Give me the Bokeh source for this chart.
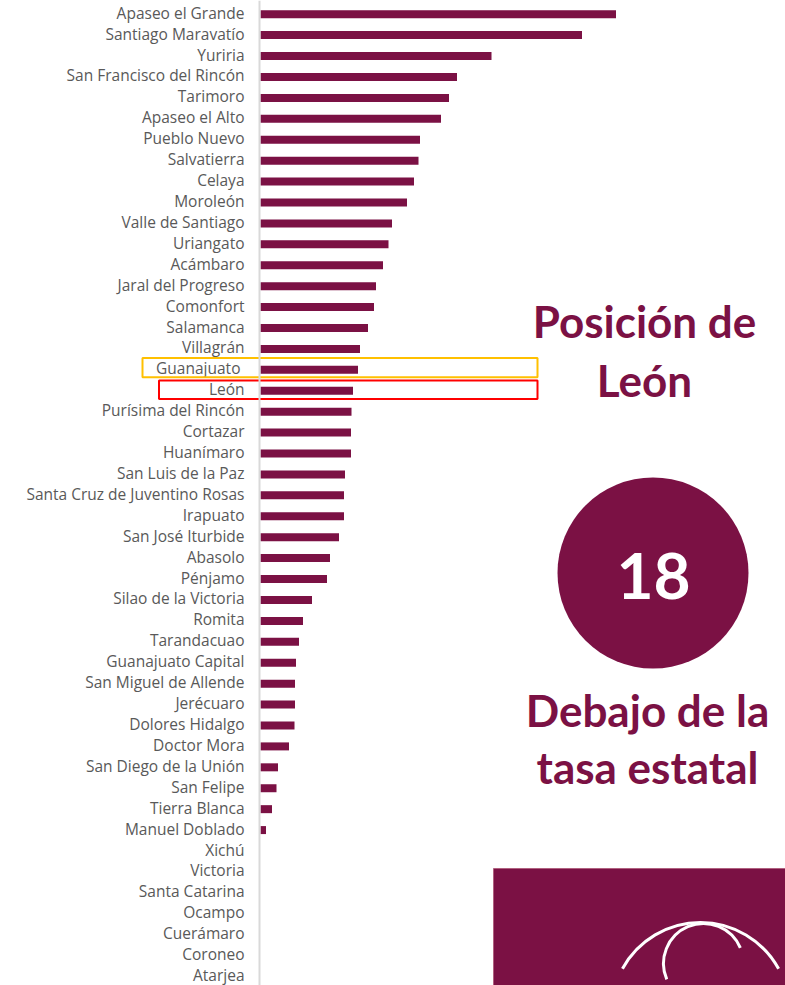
from bokeh.plotting import figure
from bokeh.models import Range1d, Span, ColumnDataSource
from bokeh.core.properties import value
from bokeh.embed import file_html
from bokeh.resources import INLINE

municipios = [
    "Apaseo el Grande", "Santiago Maravatío", "Yuriria", "San Francisco del Rincón",
    "Tarimoro", "Apaseo el Alto", "Pueblo Nuevo", "Salvatierra", "Celaya", "Moroleón",
    "Valle de Santiago", "Uriangato", "Acámbaro", "Jaral del Progreso", "Comonfort",
    "Salamanca", "Villagrán", "Guanajuato ", "León", "Purísima del Rincón", "Cortazar",
    "Huanímaro", "San Luis de la Paz", "Santa Cruz de Juventino Rosas", "Irapuato",
    "San José Iturbide", "Abasolo", "Pénjamo", "Silao de la Victoria", "Romita",
    "Tarandacuao", "Guanajuato Capital", "San Miguel de Allende", "Jerécuaro",
    "Dolores Hidalgo", "Doctor Mora", "San Diego de la Unión", "San Felipe",
    "Tierra Blanca", "Manuel Doblado", "Xichú", "Victoria", "Santa Catarina",
    "Ocampo", "Cuerámaro", "Coroneo", "Atarjea",
]
tasas = [
    71.1, 64.3, 46.2, 39.3, 37.7, 36.1, 31.9, 31.6, 30.7, 29.3,
    26.3, 25.6, 24.5, 23.1, 22.7, 21.5, 19.9, 19.5, 18.5, 18.2,
    18.1, 18.1, 16.9, 16.7, 16.7, 15.7, 13.9, 13.3, 10.3, 8.5,
    7.7, 7.1, 6.9, 6.9, 6.8, 5.7, 3.5, 3.2, 2.3, 1.1,
    0, 0, 0, 0, 0, 0, 0,
]
posicion_leon = "18"
titulo_1 = "Posición de"
titulo_2 = "León"
nota_1 = "Debajo de la"
nota_2 = "tasa estatal"

VINO = "#7B1144"
W, H = 785, 985
OFF = 0                # page offset of the canvas
PX_PER_UNIT = 5.0
ZERO_PX = 260          # page x of value 0
ROW0_PX = 13.7         # page y of first row
ROW_PX = 20.92         # row spacing


def X(px):
    return (px - ZERO_PX) / PX_PER_UNIT


def Y(py):
    return (py - ROW0_PX) / ROW_PX


rows = list(range(len(municipios)))
src = ColumnDataSource(dict(y=rows, v=tasas, name=municipios))

p = figure(width=W, height=H,
           x_range=Range1d(X(OFF), X(OFF + W)),
           y_range=Range1d(Y(OFF + H), Y(OFF)),
           x_axis_location=None, y_axis_location=None,
           min_border=0, output_backend="svg", toolbar_location=None,
           outline_line_color=None, background_fill_color="white",
           border_fill_color="white")
p.xgrid.visible = False
p.ygrid.visible = False

# axis line
p.add_layout(Span(location=X(259), dimension="height", line_color="#D9D9D9", line_width=2))

# bars
p.hbar(y="y", right="v", left=0, height=8 / ROW_PX, source=src,
       fill_color=VINO, line_color=None)

# category labels
p.text(x=0, y="y", text="name", source=src, x_offset=-16, y_offset=-1.5,
       text_align="right", text_baseline="middle",
       text_font=value("Open Sans"), text_font_size="15.5px", text_color="#595959")

# highlight boxes
gi = municipios.index("Guanajuato ")
li = municipios.index("León")
p.quad(left=[X(142)], right=[X(537)], top=[gi - 0.57], bottom=[gi + 0.36],
       fill_color=None, line_color="#FFC000", line_width=2)
p.quad(left=[X(158.5)], right=[X(537)], top=[li - 0.49], bottom=[li + 0.39],
       fill_color=None, line_color="#FF0000", line_width=2)

# right-side texts (y = visual centre of the capitals)
big = dict(text_align="center", text_baseline="alphabetic",
           text_font=value("Lato"), text_font_style="bold", text_color=VINO)
p.text(x=[X(644)], y=[Y(320)], text=[titulo_1], text_font_size="44px", **big)
p.text(x=[X(644)], y=[Y(379)], text=[titulo_2], text_font_size="44px", **big)

p.scatter(x=[X(652.5)], y=[Y(572.5)], marker="circle", size=191,
          fill_color=VINO, line_color=None)
p.text(x=[X(653)], y=[Y(575)], text=[posicion_leon], text_align="center",
       text_baseline="alphabetic", text_font=value("Lato"), text_font_style="bold",
       text_font_size="64px", text_color="white")

p.text(x=[X(647)], y=[Y(709)], text=[nota_1], text_font_size="44px", **big)
p.text(x=[X(647)], y=[Y(766)], text=[nota_2], text_font_size="44px", **big)

# logo block bottom right
p.quad(left=[X(493)], right=[X(800)], top=[Y(868)], bottom=[Y(1000)],
       fill_color=VINO, line_color="#B0607F", line_width=1)
p.arc(x=[X(700)], y=[Y(1011)], radius=89, radius_units="screen",
      start_angle=0.50, end_angle=2.64, line_color="white", line_width=3)
p.arc(x=[X(703)], y=[Y(963)], radius=40, radius_units="screen",
      start_angle=0.40, end_angle=3.55, line_color="white", line_width=3)

open("out.html", "w").write(file_html(p, INLINE))
